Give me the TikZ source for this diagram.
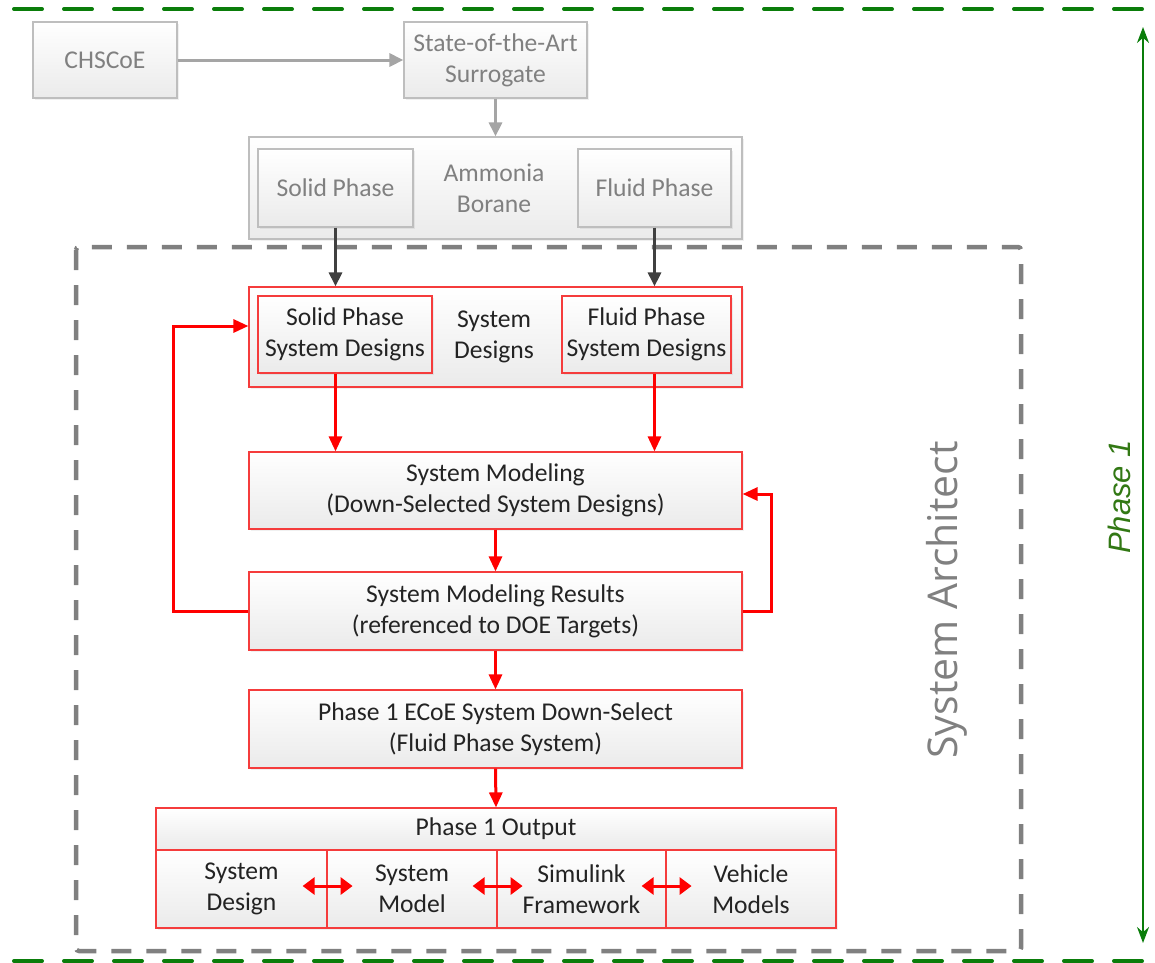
\documentclass[tikz,border=0pt]{standalone}
\usepackage{fontspec}
\setmainfont{Carlito}
\newfontfamily\arialf{Liberation Sans}
\newfontfamily\archf{Open Sans}
\usetikzlibrary{arrows.meta,shadows}
\definecolor{gtext}{RGB}{128,128,128}
\definecolor{gborder}{RGB}{190,190,190}
\definecolor{rborder}{RGB}{245,60,60}
\definecolor{rarr}{RGB}{255,0,0}
\definecolor{garr}{RGB}{165,165,165}
\definecolor{darr}{RGB}{64,64,64}
\definecolor{pgreen}{RGB}{10,125,10}
\definecolor{ptext}{RGB}{50,120,20}
\definecolor{dashgray}{RGB}{128,128,128}
\definecolor{btext}{RGB}{35,35,35}
\tikzset{
  boxbase/.style={rectangle, inner sep=0pt, align=center, top color=white, bottom color=black!8,
    font=\fontsize{25.6}{31}\selectfont, line width=1.2pt,
    drop shadow={opacity=0.12, shadow xshift=2pt, shadow yshift=-2pt}},
  graybox/.style={boxbase, draw=gborder, text=gtext},
  redbox/.style={boxbase, draw=rborder, text=btext},
  plaintext/.style={inner sep=0pt, align=center, font=\fontsize{25.6}{31}\selectfont},
  garrow/.style={draw=garr, line width=3pt, -{Triangle[length=14pt,width=13pt]}},
  darrow/.style={draw=darr, line width=3pt, -{Triangle[length=14pt,width=13pt]}},
  rarrow/.style={draw=rarr, line width=3pt, -{Triangle[length=15pt,width=13pt]}},
  dblarrow/.style={draw=rarr, line width=3pt, {Triangle[length=12pt,width=17pt]}-{Triangle[length=12pt,width=17pt]}},
  greendash/.style={draw=pgreen, line width=4pt, line cap=round, dash pattern=on 28pt off 22pt},
  graydash/.style={draw=dashgray, line width=4.5pt, dash pattern=on 20pt off 15pt},
}
\begin{document}
\begin{tikzpicture}[x=1pt,y=-1pt]
\useasboundingbox (0,0) rectangle (1155,962);
% dashed frames
\draw[graydash, rounded corners=3pt] (76,247) rectangle (1021,951);
\coordinate (gtl) at (14,9);
\coordinate (gtr) at (1145,9);
\coordinate (gbl) at (14,961);
\coordinate (gbr) at (1145,961);
\draw[greendash] (gtl) -- (gtr);
\draw[greendash] (gbl) -- (gbr);
% phase arrow
\coordinate (ptop) at (1143,27);
\coordinate (pbot) at (1143,943);
\draw[draw=pgreen, line width=2pt, {Stealth[length=16pt,width=12pt]}-{Stealth[length=16pt,width=12pt]}] (ptop) -- (pbot);
\node[rotate=90, text=ptext, font=\arialf\itshape\fontsize{31}{31}\selectfont, inner sep=0pt] (phase) at (1119,497) {Phase 1};
\node[rotate=90, text=gtext, font=\archf\fontsize{41}{41}\selectfont, inner sep=0pt] (arch) at (947,600) {System Architect};
% top gray part
\node[graybox, minimum width=144pt, minimum height=76pt] (chs) at (105,60) {CHSCoE};
\node[graybox, minimum width=183pt, minimum height=76pt] (sota) at (495.5,60) {State-of-the-Art\\Surrogate};
\node[graybox, minimum width=493pt, minimum height=102pt] (ab) at (495.5,188) {};
\node[plaintext, text=gtext] (abt) at (494,188) {Ammonia\\Borane};
\node[graybox, minimum width=155pt, minimum height=78pt] (solid) at (335.5,188) {Solid Phase};
\node[graybox, minimum width=153pt, minimum height=78pt] (fluid) at (654.5,188) {Fluid Phase};
\draw[garrow] (chs.east) -- (sota.west);
\draw[garrow] (sota.south) -- (ab.north -| sota.south);
% system designs
\node[redbox, minimum width=493pt, minimum height=100pt] (sd) at (495.5,337) {};
\node[plaintext, text=btext] (sdt) at (494,337) {System\\Designs};
\node[redbox, minimum width=174pt, minimum height=77pt] (spsd) at (345,334.5) {Solid Phase\\System Designs};
\node[redbox, minimum width=169pt, minimum height=77pt] (fpsd) at (646.5,334.5) {Fluid Phase\\System Designs};
\draw[darrow] (solid.south) -- (solid.south |- sd.north);
\draw[darrow] (fluid.south) -- (fluid.south |- sd.north);
% modeling
\node[redbox, minimum width=493pt, minimum height=77pt] (sm) at (495.5,490.5) {System Modeling\\(Down-Selected System Designs)};
\node[redbox, minimum width=493pt, minimum height=78pt] (smr) at (495.5,611) {System Modeling Results\\(referenced to DOE Targets)};
\node[redbox, minimum width=493pt, minimum height=78pt] (ecoe) at (495.5,729) {Phase 1 ECoE System Down-Select\\(Fluid Phase System)};
\draw[rarrow] (solid |- spsd.south) -- (solid |- sm.north);
\draw[rarrow] (fluid |- fpsd.south) -- (fluid |- sm.north);
\draw[rarrow] (sm.south) -- (smr.north);
\draw[rarrow] (smr.south) -- (ecoe.north);
\draw[rarrow] (smr.west) -- ++(-75,0) |- ([yshift=11pt]sd.west);
\draw[rarrow] (smr.east) -- ++(29,0) |- ([yshift=-3.5pt]sm.east);
% output
\node[redbox, minimum width=680pt, minimum height=42pt] (out) at (496,829) {Phase 1 Output};
\node[redbox, minimum width=171pt, minimum height=78pt] (c1) at (241.5,889) {System\\Design};
\node[redbox, minimum width=170pt, minimum height=78pt] (c2) at (412,889) {System\\Model};
\node[redbox, minimum width=169pt, minimum height=78pt] (c3) at (581.5,889) {Simulink\\Framework};
\node[redbox, minimum width=170pt, minimum height=78pt] (c4) at (751,889) {Vehicle\\Models};
\draw[rarrow] (ecoe.south) -- (out.north);
\draw[dblarrow] ([xshift=-25pt,yshift=3pt]c1.east) -- ([xshift=25pt,yshift=3pt]c1.east);
\draw[dblarrow] ([xshift=-25pt,yshift=3pt]c2.east) -- ([xshift=25pt,yshift=3pt]c2.east);
\draw[dblarrow] ([xshift=-25pt,yshift=3pt]c3.east) -- ([xshift=25pt,yshift=3pt]c3.east);
\end{tikzpicture}
\end{document}
